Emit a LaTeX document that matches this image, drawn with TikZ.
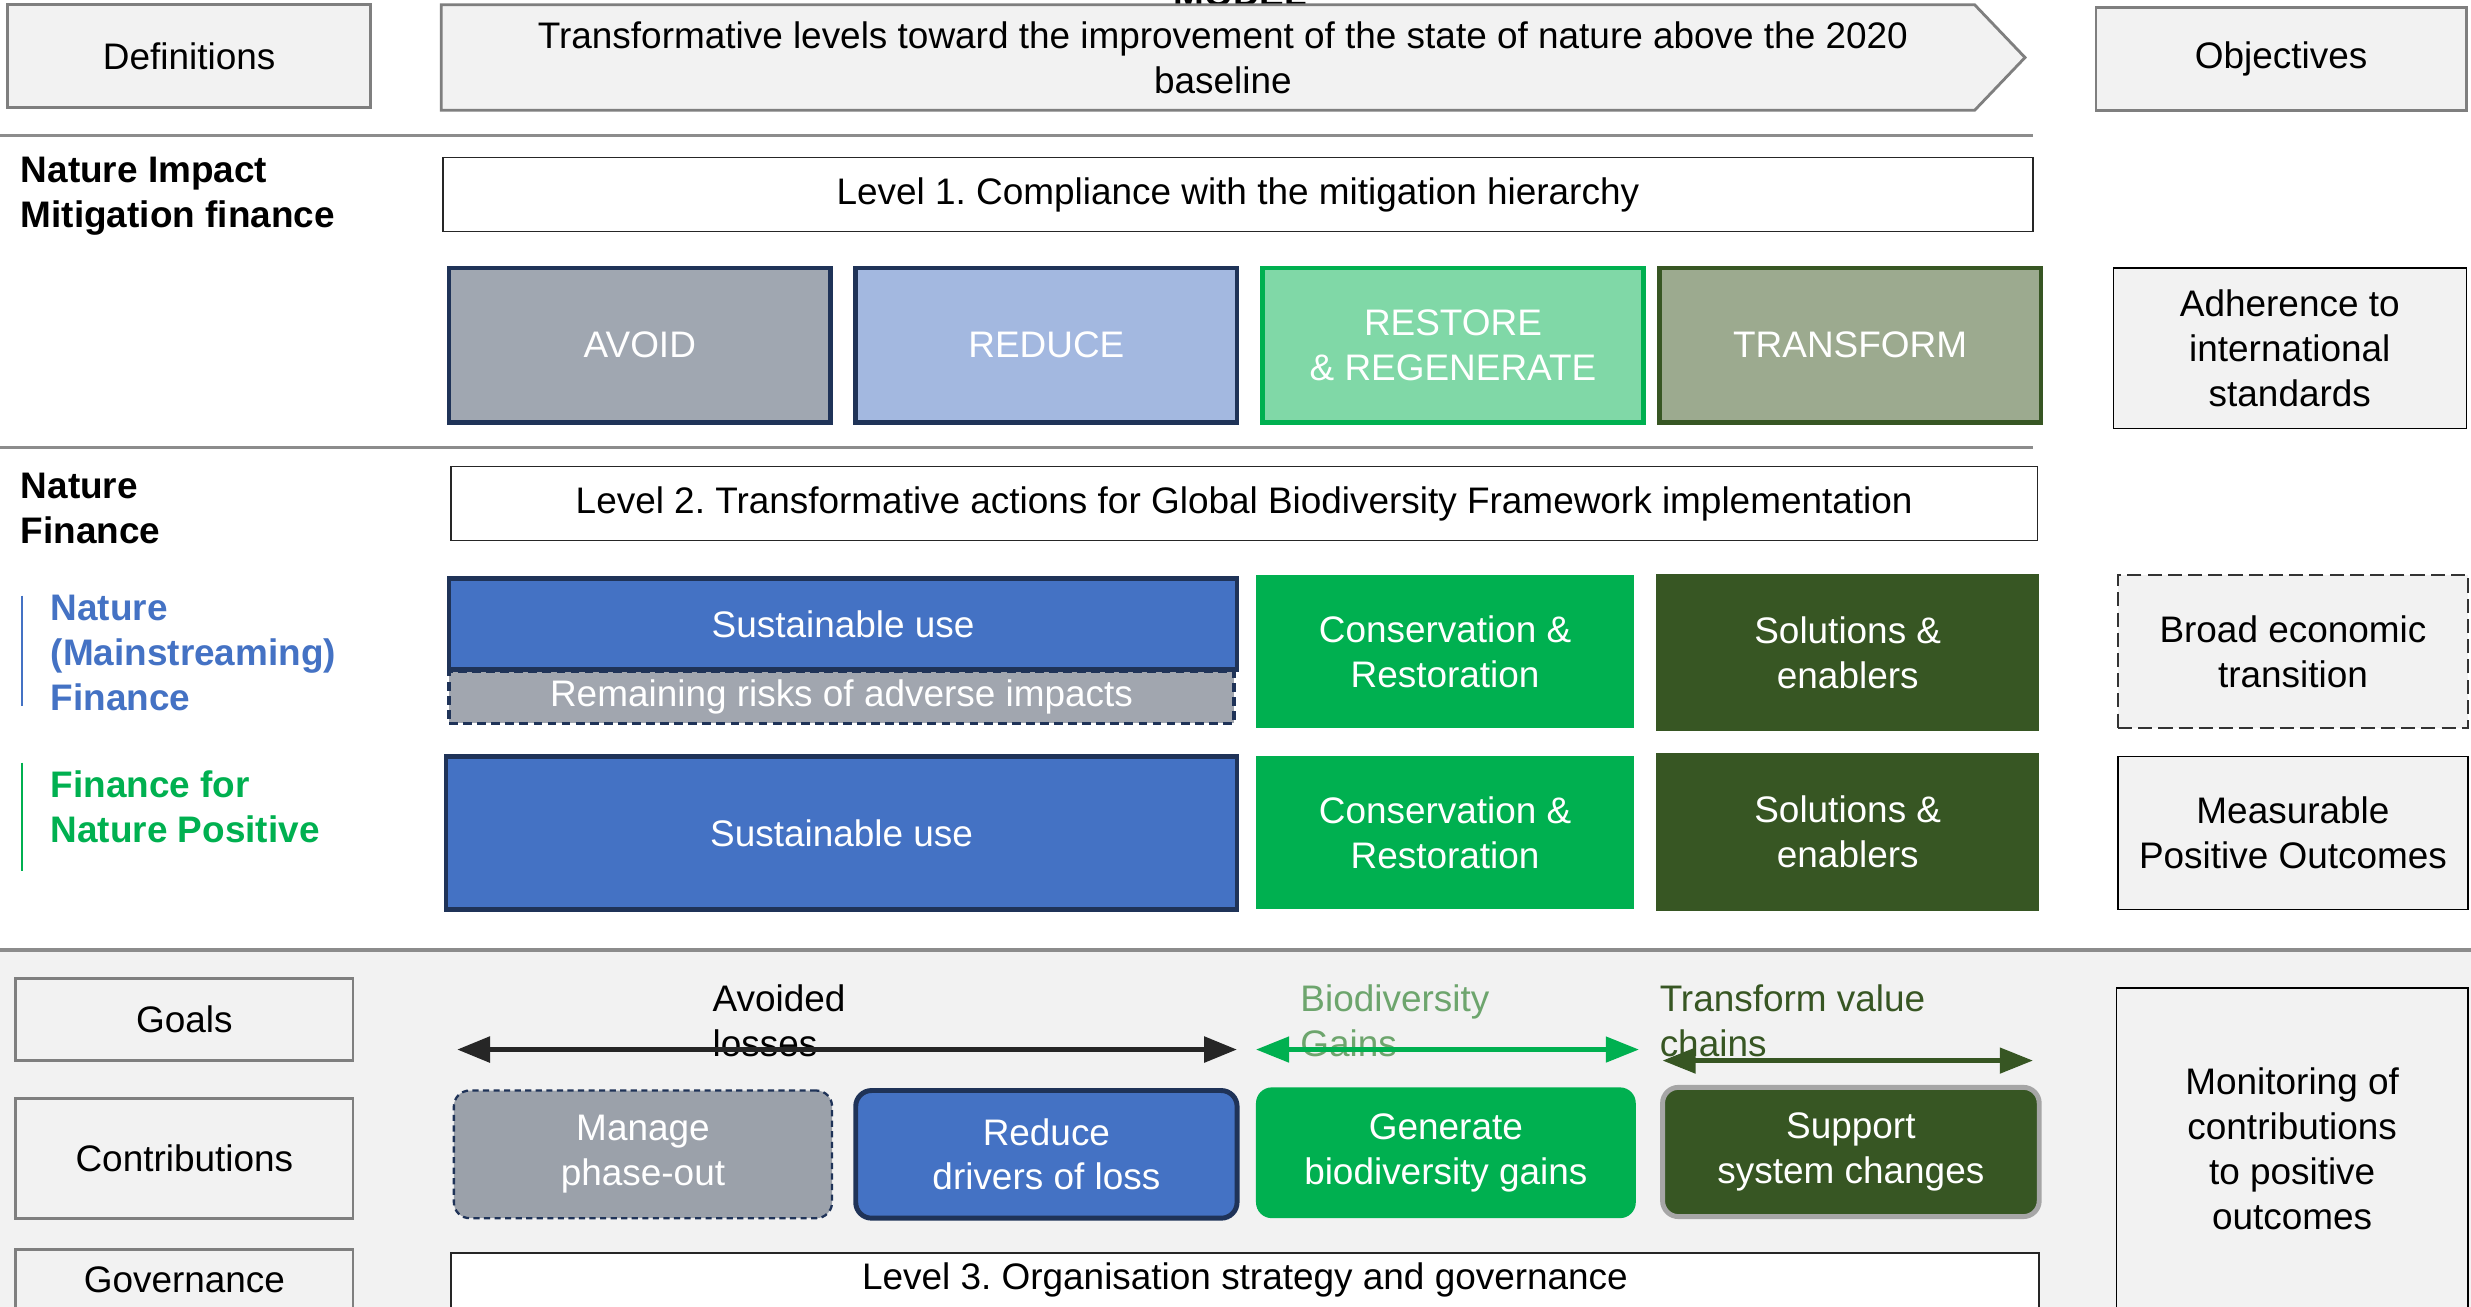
\documentclass[tikz,border=0pt]{standalone}
\usepackage{fontspec}
\setmainfont{Liberation Sans}
\usetikzlibrary{arrows.meta}
\definecolor{lg}{HTML}{F2F2F2}
\definecolor{bgray}{HTML}{7F7F7F}
\definecolor{navy}{HTML}{1F3358}
\definecolor{nblue}{HTML}{4472C4}
\definecolor{ngreen}{HTML}{00B050}
\definecolor{dgreen}{HTML}{375623}
\definecolor{avoidc}{HTML}{A0A7B1}
\definecolor{reducec}{HTML}{A3B8E0}
\definecolor{restorec}{HTML}{80D8A7}
\definecolor{transc}{HTML}{9CAA8F}
\definecolor{riskc}{HTML}{A1A6AF}
\definecolor{managec}{HTML}{9BA1AA}
\definecolor{biotext}{HTML}{6DA56D}
\definecolor{sepc}{HTML}{8C8C8C}
% \mybox{style}{name}{x1}{y1}{x2}{y2}{text}
\newcommand\mybox[7]{\node[#1, minimum width={(#5-#3)*0.0315cm}, minimum height={(#6-#4)*0.0315cm}, anchor=center] (#2) at ({(#3+#5)/2},{(#4+#6)/2}) {#7};}
\begin{document}
\begin{tikzpicture}[x=0.0315cm,y=-0.0315cm,
  every node/.style={font=\fontsize{21}{25.5}\selectfont\frenchspacing, inner sep=0pt, align=center},
  lbl/.style={draw=bgray, line width=1.6pt, fill=lg},
  lvl/.style={draw=black!85, line width=0.9pt, fill=white},
  obj/.style={draw=black, line width=0.9pt, fill=lg},
  mit/.style={line width=2.6pt, text=white},
  fin/.style={text=white},
  cbox/.style={rounded corners=9pt, text=white},
  sep/.style={draw=sepc, line width=1.6pt},
  side/.style={font=\fontsize{21}{25.5}\selectfont\bfseries, align=left, anchor=west},
  garrow/.style={{Triangle[length=0.66cm,width=0.5cm]}-{Triangle[length=0.66cm,width=0.5cm]}},
  goaltxt/.style={align=left, anchor=west}
]
\useasboundingbox (0,0) rectangle (1568,829);
\fill[white] (0,0) rectangle (1568,829);

% ---- header
\node[font=\fontsize{21}{25.5}\selectfont\bfseries, anchor=base] (model) at (787,4) {MODEL};
\mybox{lbl}{defs}{5}{3}{235}{68}{Definitions}
\draw[lbl] (280,3) -- (1253,3) -- (1285,36.5) -- (1253,70) -- (280,70) -- cycle;
\node (banner) at (776,36.5) {Transformative levels toward the improvement of the state of nature above the 2020\\baseline};
\mybox{lbl}{objs}{1330}{5}{1565}{70}{Objectives}

\path[sep] (0,86) -- (1290,86);

% ---- level 1
\node[side] (nimf) at (13,124.5) {Nature Impact\\Mitigation finance};
\mybox{lvl}{lvl1}{281}{100}{1290}{147}{Level 1. Compliance with the mitigation hierarchy}
\mybox{mit, draw=navy, fill=avoidc}{avoid}{285}{170}{527}{268}{AVOID}
\mybox{mit, draw=navy, fill=reducec}{reduce}{543}{170}{785}{268}{REDUCE}
\mybox{mit, draw=ngreen, fill=restorec}{restore}{801}{170}{1043}{268}{RESTORE\\\& REGENERATE}
\mybox{mit, draw=dgreen, fill=transc}{transform}{1053}{170}{1295}{268}{TRANSFORM}
\mybox{obj}{adher}{1341}{170}{1565}{272}{Adherence to\\international\\standards}

\path[sep] (0,284) -- (1290,284);

% ---- level 2
\node[side] (nf) at (13,322.5) {Nature\\Finance};
\mybox{lvl}{lvl2}{286}{296}{1293}{343}{Level 2. Transformative actions for Global Biodiversity Framework implementation}

\draw[nblue, line width=1.2pt] (14,378) -- (14,448);
\node[side, text=nblue] (nmf) at (32,414.5) {Nature\\(Mainstreaming)\\Finance};
\mybox{draw=navy, dash pattern=on 5pt off 3pt, line width=2pt, fill=riskc, text=white}{risk}{285}{426}{783}{459}{Remaining risks of adverse impacts}
\mybox{draw=navy, line width=2.6pt, fill=nblue, text=white}{su1}{285}{367}{785}{425}{Sustainable use}
\mybox{fin, fill=ngreen}{cr1}{797}{365}{1037}{462}{Conservation \&\\Restoration}
\mybox{fin, fill=dgreen}{se1}{1051}{364}{1294}{464}{Solutions \&\\enablers}
\mybox{draw=black!80, dash pattern=on 8pt off 3.5pt, line width=1pt, fill=lg}{bet}{1344}{365}{1566}{462}{Broad economic\\transition}

\draw[ngreen, line width=1.2pt] (14,484) -- (14,553);
\node[side, text=ngreen] (fnp) at (32,512) {Finance for\\Nature Positive};
\mybox{draw=navy, line width=2.6pt, fill=nblue, text=white}{su2}{283}{480}{785}{577}{Sustainable use}
\mybox{fin, fill=ngreen}{cr2}{797}{480}{1037}{577}{Conservation \&\\Restoration}
\mybox{fin, fill=dgreen}{se2}{1051}{478}{1294}{578}{Solutions \&\\enablers}
\mybox{obj}{mpo}{1344}{480}{1566}{577}{Measurable\\Positive Outcomes}

% ---- bottom panel
\fill[lg] (0,603) rectangle (1568,835);
\draw[sep, line width=2.2pt] (0,603) -- (1568,603);
\mybox{lbl}{goals}{10}{621}{224}{673}{Goals}
\mybox{lbl}{contrib}{10}{697}{224}{773}{Contributions}
\mybox{lbl}{gov}{10}{793}{224}{831}{Governance}
\mybox{obj}{monit}{1343}{627}{1566}{831}{Monitoring of\\contributions\\to positive\\outcomes}
\mybox{lvl}{lvl3}{286}{795}{1294}{830}{Level 3. Organisation strategy and governance}

\mybox{cbox, draw=navy, dash pattern=on 3.5pt off 2.5pt, line width=1.3pt, fill=managec}{manage}{288}{692}{528}{773}{Manage\\phase-out}
\mybox{cbox, draw=navy, line width=2.8pt, fill=nblue}{reduced}{543}{692}{785}{773}{Reduce\\drivers of loss}
\mybox{cbox, fill=ngreen}{gen}{797}{690}{1038}{773}{Generate\\biodiversity gains}
\mybox{cbox, draw=black!35, line width=2.8pt, fill=dgreen}{support}{1055}{690}{1294}{772}{Support\\system changes}

% goals arrows
\node[goaltxt] (avl) at (452,648) {Avoided\\losses};
\coordinate (a1) at (290,666); \coordinate (a2) at (785,666);
\draw[garrow, draw=black!85, line width=3.2pt] (a1) -- (a2);

\node[goaltxt, text=biotext] (bgl) at (825,648) {Biodiversity\\Gains};
\coordinate (b1) at (797,666); \coordinate (b2) at (1040,666);
\draw[garrow, draw=ngreen, line width=2.6pt] (b1) -- (b2);

\node[goaltxt, text=dgreen] (tvc) at (1053,648) {Transform value\\chains};
\coordinate (c1) at (1055,673); \coordinate (c2) at (1290,673);
\draw[garrow, draw=dgreen, line width=2.6pt] (c1) -- (c2);
\end{tikzpicture}
\end{document}
